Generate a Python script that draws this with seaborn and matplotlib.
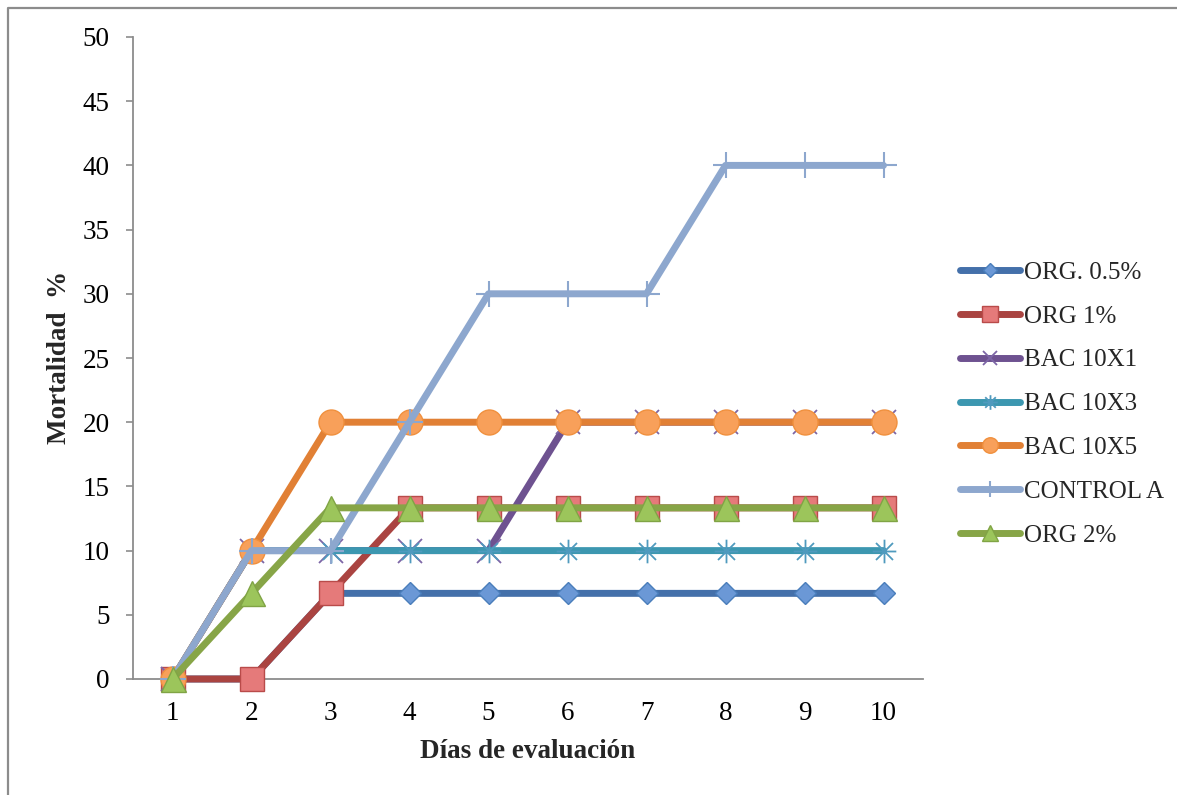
import matplotlib
matplotlib.use("Agg")
import matplotlib.pyplot as plt
import seaborn as sns
import pandas as pd
import numpy as np
from matplotlib.path import Path
from matplotlib.lines import Line2D

# ---- data ----
days = [1, 2, 3, 4, 5, 6, 7, 8, 9, 10]
org_05 = [0, 0, 6.67, 6.67, 6.67, 6.67, 6.67, 6.67, 6.67, 6.67]
org_1 = [0, 0, 6.67, 13.33, 13.33, 13.33, 13.33, 13.33, 13.33, 13.33]
bac_10x1 = [0, 10, 10, 10, 10, 20, 20, 20, 20, 20]
bac_10x3 = [0, 10, 10, 10, 10, 10, 10, 10, 10, 10]
bac_10x5 = [0, 10, 20, 20, 20, 20, 20, 20, 20, 20]
control_a = [0, 10, 10, 20, 30, 30, 30, 40, 40, 40]
org_2 = [0, 6.67, 13.33, 13.33, 13.33, 13.33, 13.33, 13.33, 13.33, 13.33]

series_names = ["ORG. 0.5%", "ORG 1%", "BAC 10X1", "BAC 10X3", "BAC 10X5", "CONTROL A", "ORG 2%"]
series_values = [org_05, org_1, bac_10x1, bac_10x3, bac_10x5, control_a, org_2]
y_ticks = [0, 5, 10, 15, 20, 25, 30, 35, 40, 45, 50]
x_label = "Días de evaluación"
y_label = "Mortalidad  %"

df = pd.DataFrame(
    [(n, d, v) for n, vals in zip(series_names, series_values) for d, v in zip(days, vals)],
    columns=["serie", "dia", "valor"],
)

# ---- styles ----
asterisk = Path(
    [(-1, 0), (1, 0), (0, -1), (0, 1), (-0.72, -0.72), (0.72, 0.72), (-0.72, 0.72), (0.72, -0.72)],
    [Path.MOVETO, Path.LINETO] * 4,
)
styles = {
    "ORG. 0.5%": dict(color="#4470AA", marker="D", ms=11.5, mfc="#6B98D6", mec="#4A7EBB", mew=1.0),
    "ORG 1%": dict(color="#AA4441", marker="s", ms=17.5, mfc="#E57A7A", mec="#B94B4A", mew=1.0),
    "BAC 10X1": dict(color="#6E5290", marker="x", ms=17, mfc="none", mec="#7D66A6", mew=1.3),
    "BAC 10X3": dict(color="#3C97B0", marker=asterisk, ms=17, mfc="none", mec="#4F9ABE", mew=1.3),
    "BAC 10X5": dict(color="#E18035", marker="o", ms=18, mfc="#F8A05A", mec="#F0903E", mew=1.0),
    "CONTROL A": dict(color="#8DA7CE", marker="+", ms=19, mfc="none", mec="#8DA7CE", mew=1.5),
    "ORG 2%": dict(color="#87A547", marker="^", ms=18, mfc="#9CC55B", mec="#80A445", mew=1.0),
}

sns.set_theme(style="white")
plt.rcParams["font.family"] = ["Liberation Serif", "DejaVu Serif"]

fig = plt.figure(figsize=(11.77, 7.95), dpi=100)
ax = fig.add_axes([133 / 1177, 1 - 679 / 795, 790 / 1177, 642 / 795])

for i, name in enumerate(series_names):
    st = styles[name]
    sub = df[df["serie"] == name]
    sns.lineplot(
        data=sub, x="dia", y="valor", ax=ax,
        color=st["color"], linewidth=5.0,
        marker=st["marker"], markersize=st["ms"],
        markerfacecolor=st["mfc"], markeredgecolor=st["mec"], markeredgewidth=st["mew"],
        solid_capstyle="round", solid_joinstyle="round",
        label=name, zorder=3 + i, clip_on=False, legend=False,
    )

ax.set_xlim(0.5, 10.5)
ax.set_ylim(0, 50)
ax.set_xticks(days)
ax.set_xticklabels([str(d) for d in days])
ax.set_yticks(y_ticks)
ax.set_yticklabels([str(t) for t in y_ticks])

for side in ["top", "right"]:
    ax.spines[side].set_visible(False)
for side in ["left", "bottom"]:
    ax.spines[side].set_color("#8C8C8C")
    ax.spines[side].set_linewidth(1.3)
ax.grid(False)

ax.tick_params(axis="y", which="both", direction="out", length=5, width=1.2,
               color="#8C8C8C", pad=12, labelsize=19.5, labelcolor="black", left=True)
ax.tick_params(axis="x", which="both", length=0, pad=16, labelsize=19.5, labelcolor="black")

ax.set_xlabel(x_label, fontsize=19.5, fontweight="bold", va="center")
ax.xaxis.set_label_coords(0.5, (679 - 752) / 642)
ax.set_ylabel(y_label, fontsize=19.5, fontweight="bold", va="center")
ax.yaxis.set_label_coords((60 - 133) / 790, (679 - 357) / 642)

handles = []
for name in series_names:
    st = styles[name]
    handles.append(Line2D([], [], color=st["color"], linewidth=5.0, solid_capstyle="round",
                          marker=st["marker"], markersize=st["ms"],
                          markerfacecolor=st["mfc"], markeredgecolor=st["mec"],
                          markeredgewidth=st["mew"]))
fig.legend(handles, series_names, loc="center left",
           bbox_to_anchor=(960 / 1177, 1 - 404 / 795), frameon=False,
           fontsize=18, handlelength=2.4, handletextpad=0.15, labelspacing=0.85,
           markerscale=0.62, borderpad=0, borderaxespad=0)

# outer chart border (left and top edges visible)
x0 = 8 / 1177
y0 = 1 - 8 / 795
fig.add_artist(Line2D([x0, x0, 1.0], [0.0, y0, y0], transform=fig.transFigure,
                      color="#8C8C8C", linewidth=1.6))

fig.savefig("out.png", dpi=100)
